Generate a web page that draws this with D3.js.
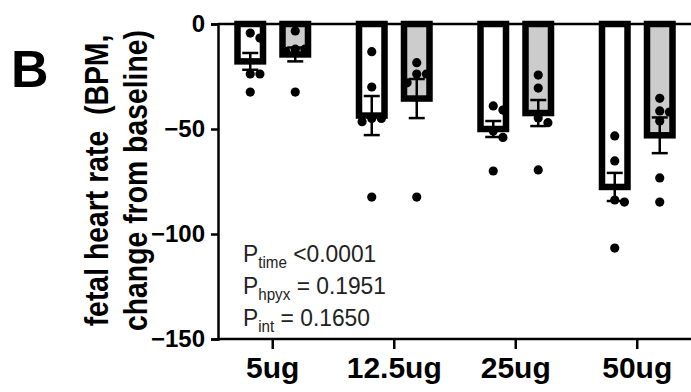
<!DOCTYPE html>
<html>
<head>
<meta charset="utf-8">
<script src="https://cdn.jsdelivr.net/npm/d3@7"></script>
<style>
    body { margin: 0; background: #fff; }
    text { font-family: "Liberation Sans", Arial, sans-serif; }
</style>
</head>
<body>
<div class="chart"></div>
<script>

// Doses on the x axis, two series per dose
var doses = ["5ug", "12.5ug", "25ug", "50ug"];
var series = ["control", "hpyx"];

// Bar heights (mean change in BPM) and SEM
var meanControl = [-17.8, -43.6, -50, -77.6];
var meanHpyx = [-14.5, -35.5, -42.4, -53];
var semControl = [4, 9.3, 3.8, 6.7];
var semHpyx = [3.3, 9.3, 6.2, 8.5];

// Individual animals
var pointsControl = [
    [-4.3, -6.7, -23.8, -23.8, -32.4],
    [-13.2, -30, -45, -45, -46.5, -82.4],
    [-39, -41, -51, -54, -70],
    [-53.3, -65.2, -83.8, -84.8, -106.7]
];
var pointsHpyx = [
    [-3.3, -12, -13, -12, -32.4],
    [-18.4, -23.8, -23.8, -28, -82.4],
    [-24.3, -30.5, -44.8, -47, -69.5],
    [-35.4, -41.4, -41.9, -46.2, -73.3, -84.8]
];

var yTicks = [0, -50, -100, -150];
var pLines = [
    { sub: "time", rest: " <0.0001" },
    { sub: "hpyx", rest: " = 0.1951" },
    { sub: "int", rest: " = 0.1650" }
];

var width = 691, height = 392;
var fills = { control: "#ffffff", hpyx: "#cccccc" };
var dotR = 4.6;

var svg = d3.select(".chart")
    .append("svg")
        .attr("width", width)
        .attr("height", height);

var y = d3.scaleLinear()
    .domain([-150, 0])
    .range([339, 24]);

var x = d3.scaleBand()
    .domain(doses)
    .range([212, 698])
    .padding(0);

var xSub = d3.scalePoint()
    .domain(series)
    .range([-22.5, 22.5]);

// Build one row per bar
var rows = [];
doses.forEach(function(d, i) {
    rows.push({ dose: d, s: "control", mean: meanControl[i], sem: semControl[i], pts: pointsControl[i] });
    rows.push({ dose: d, s: "hpyx", mean: meanHpyx[i], sem: semHpyx[i], pts: pointsHpyx[i] });
});

function cx(d) { return x(d.dose) + x.bandwidth() / 2 + xSub(d.s); }

// Bars
var barW = 25.5;
svg.selectAll(".bar")
    .data(rows)
    .enter()
    .append("rect")
    .attr("class", "bar")
    .attr("x", function(d) { return cx(d) - barW / 2; })
    .attr("y", y(0))
    .attr("width", barW)
    .attr("height", function(d) { return y(d.mean) - y(0); })
    .style("fill", function(d) { return fills[d.s]; })
    .style("stroke", "#000")
    .style("stroke-width", 6.5);

// Error bars (mean +/- SEM)
var capW = 16;
rows.forEach(function(d) {
    var c = cx(d);
    var g = svg.append("g").style("stroke", "#000").style("stroke-width", 2.5);
    g.append("line")
        .attr("x1", c).attr("x2", c)
        .attr("y1", y(d.mean + d.sem)).attr("y2", y(d.mean - d.sem));
    [d.mean + d.sem, d.mean - d.sem].forEach(function(v) {
        g.append("line")
            .attr("x1", c - capW / 2).attr("x2", c + capW / 2)
            .attr("y1", y(v)).attr("y2", y(v));
    });
});

// Scatter points, spread sideways when they would overlap
function swarm(values, center) {
    var placed = [];
    var step = dotR * 2.1;
    values.slice().sort(d3.descending).forEach(function(v) {
        var py = y(v);
        var offs = [0, step, -step, 2 * step, -2 * step];
        for (var k = 0; k < offs.length; k++) {
            var px = center + offs[k];
            var hit = placed.some(function(p) {
                return Math.hypot(p.x - px, p.y - py) < dotR * 2;
            });
            if (!hit) { placed.push({ x: px, y: py }); break; }
        }
    });
    return placed;
}

rows.forEach(function(d) {
    svg.selectAll(null)
        .data(swarm(d.pts, cx(d)))
        .enter()
        .append("circle")
        .attr("cx", function(p) { return p.x; })
        .attr("cy", function(p) { return p.y; })
        .attr("r", dotR)
        .style("fill", "#000");
});

// Zero line across the top
svg.append("line")
    .attr("x1", 218).attr("x2", width)
    .attr("y1", y(0)).attr("y2", y(0))
    .style("stroke", "#000")
    .style("stroke-width", 2.5);

// Y axis
var yAxis = d3.axisLeft(y)
    .tickValues(yTicks)
    .tickSize(7)
    .tickPadding(6);

var gy = svg.append("g")
    .attr("transform", "translate(218,0)")
    .call(yAxis);
gy.select(".domain").style("stroke-width", 2.5);
gy.selectAll(".tick line").style("stroke-width", 2.5);
gy.selectAll(".tick text")
    .style("font-size", "24px")
    .style("font-weight", "bold")
    .style("font-family", "Liberation Sans, Arial, sans-serif")
    .attr("fill", "#000");

// X axis at the bottom
var xAxis = d3.axisBottom(x)
    .tickSize(10)
    .tickPadding(8)
    .tickSizeOuter(0);

var gx = svg.append("g")
    .attr("transform", "translate(0," + y(-150) + ")")
    .call(xAxis);
gx.select(".domain")
    .attr("d", "M218,0H" + width)
    .style("stroke-width", 2.5);
gx.selectAll(".tick line").style("stroke-width", 2.5);
gx.selectAll(".tick text")
    .style("font-size", "30px")
    .style("font-weight", "bold")
    .style("font-family", "Liberation Sans, Arial, sans-serif")
    .attr("fill", "#000");

// Y label, two rotated lines, squeezed along the text
var yLabel = ["fetal heart rate  (BPM,", "change from baseline)"];
var yLabelX = [108, 147];
yLabel.forEach(function(t, i) {
    svg.append("text")
        .attr("transform", "translate(" + yLabelX[i] + "," + ((y(0) + y(-150)) / 2 - 1) + ") rotate(-90) scale(0.86,1)")
        .attr("text-anchor", "middle")
        .style("white-space", "pre")
        .style("font-size", "33px")
        .style("font-weight", "bold")
        .text(t);
});

// Panel letter
svg.append("text")
    .attr("x", 11)
    .attr("y", 87)
    .style("font-size", "52px")
    .style("font-weight", "bold")
    .text("B");

// Statistics
var pBase = [262, 294, 326];
var pg = svg.append("g")
    .attr("transform", "translate(243,0) scale(0.95,1)");
pLines.forEach(function(p, i) {
    var t = pg.append("text")
        .attr("x", 0)
        .attr("y", pBase[i])
        .style("font-size", "24px")
        .style("fill", "#222")
        .style("white-space", "pre");
    t.append("tspan").text("P");
    t.append("tspan")
        .attr("dy", 6)
        .style("font-size", "16px")
        .text(p.sub);
    t.append("tspan")
        .attr("dy", -6)
        .text(p.rest);
});

</script>
</body>
</html>
